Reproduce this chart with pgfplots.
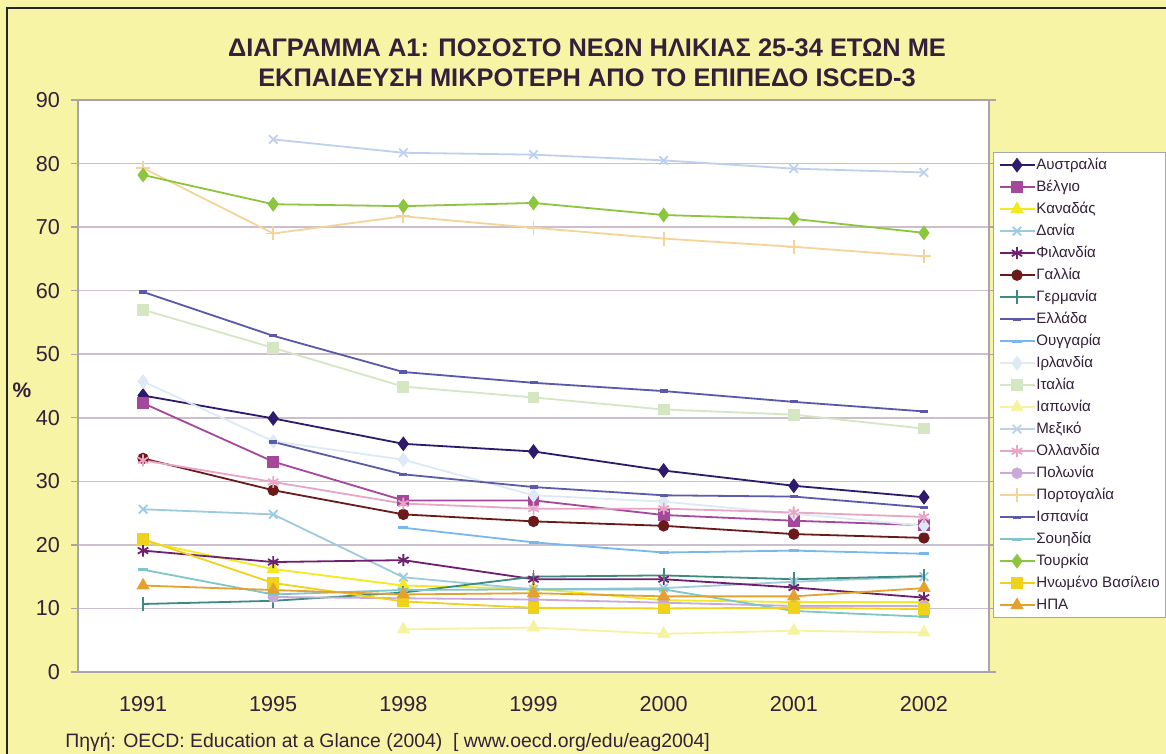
\documentclass[border=0pt]{standalone}
\usepackage{pgfplots}
\pgfplotsset{compat=1.18}
\usepackage{fontspec}
\setmainfont{Liberation Sans}
\definecolor{bgyellow}{HTML}{F7F4A5}
\definecolor{txt}{HTML}{33203A}
\definecolor{gridc}{HTML}{CBBFCB}
\definecolor{axc}{HTML}{A8A4A8}
\definecolor{cAus}{HTML}{2E1A6A}
\definecolor{cBel}{HTML}{A5479A}
\definecolor{cCan}{HTML}{F2EA1F}
\definecolor{cDen}{HTML}{9CCBE0}
\definecolor{cFin}{HTML}{6E1F6E}
\definecolor{cFra}{HTML}{6B1A1A}
\definecolor{cGer}{HTML}{3D8A7F}
\definecolor{cGre}{HTML}{5A58AA}
\definecolor{cHun}{HTML}{78B8EE}
\definecolor{cIre}{HTML}{DDEAF5}
\definecolor{cIta}{HTML}{D5E6C3}
\definecolor{cJap}{HTML}{F6F3A0}
\definecolor{cMex}{HTML}{BFD0EE}
\definecolor{cNet}{HTML}{E8A5C5}
\definecolor{cPol}{HTML}{C8A9D8}
\definecolor{cPor}{HTML}{F5D49A}
\definecolor{cSpa}{HTML}{5B5BAA}
\definecolor{cSwe}{HTML}{7FC6C8}
\definecolor{cTur}{HTML}{8CC63E}
\definecolor{cUK}{HTML}{F0D21A}
\definecolor{cUSA}{HTML}{E3A12F}
\begin{document}
\begin{tikzpicture}
\fill[bgyellow] (0,0) rectangle (583pt,377pt);
\draw[black!85, line width=0.9pt] (3.5pt,0) -- (3.5pt,373pt) -- (583pt,373pt);
\node[align=center, text=txt, font=\fontsize{12.7}{15}\selectfont\bfseries] at (293.5pt,345.5pt)
  {ΔΙΑΓΡΑΜΜΑ Α1: ΠΟΣΟΣΤΟ ΝΕΩΝ ΗΛΙΚΙΑΣ 25-34 ΕΤΩΝ ΜΕ\\ΕΚΠΑΙΔΕΥΣΗ ΜΙΚΡΟΤΕΡΗ ΑΠΟ ΤΟ ΕΠΙΠΕΔΟ ISCED-3};
\node[text=txt, font=\fontsize{10.5}{12}\selectfont\bfseries] at (11pt,182pt) {\%};
\node[anchor=west, text=txt, font=\fontsize{9.7}{11}\selectfont, inner sep=0pt] at (32.5pt,6pt)
  {Πηγή: OECD: Education at a Glance (2004)\ \ [ www.oecd.org/edu/eag2004]};
\begin{axis}[
  at={(39pt,41pt)}, anchor=south west,
  scale only axis, width=455.5pt, height=286pt,
  xmin=-0.5, xmax=6.5, ymin=0, ymax=90,
  axis background/.style={fill=white},
  axis line style={axc, line width=0.8pt},
  xtick={0,...,6},
  xticklabels={1991,1995,1998,1999,2000,2001,2002},
  x tick style={draw=none},
  xticklabel style={yshift=-5pt},
  extra x ticks={-0.5,0.5,1.5,2.5,3.5,4.5,5.5,6.5},
  extra x tick labels={},
  extra x tick style={grid=none, tick align=outside, major tick length=3.5pt, tick style={draw=axc, line width=0.7pt}},
  ytick={0,10,...,90},
  ymajorgrids, grid style={gridc, line width=0.8pt},
  y tick style={draw=axc, line width=0.7pt},
  tick align=outside, major tick length=3.5pt,
  yticklabel style={xshift=-2pt},
  ticklabel style={text=txt, font=\fontsize{10.8}{12}\selectfont},
  /pgf/number format/assume math mode=true,
  clip=false,
  every axis plot/.append style={line width=0.9pt},
  legend cell align=left,
  legend style={at={(axis description cs:1.0044,0.909)}, anchor=north west,
    draw=axc, line width=0.6pt, fill=white, inner xsep=2.5pt, inner ysep=1.5pt,
    row sep=1.5pt,
    nodes={font=\fontsize{7.55}{9}\selectfont, text=txt, inner sep=0.5pt, text height=6.5pt, text depth=2pt}},
  legend image code/.code={\draw[mark repeat=2, mark phase=2] plot coordinates {(0pt,0pt) (8.75pt,0pt) (17.5pt,0pt)};},
]
\addplot[cAus, mark=diamond*, mark size=3pt] coordinates {(0,43.5)(1,39.9)(2,35.9)(3,34.7)(4,31.7)(5,29.3)(6,27.5)};
\addlegendentry{Αυστραλία}
\addplot[cBel, mark=square*, mark size=2.5pt] coordinates {(0,42.3)(1,33.1)(2,27.0)(3,27.0)(4,24.7)(5,23.8)(6,23.1)};
\addlegendentry{Βέλγιο}
\addplot[cCan, mark=triangle*, mark size=3pt] coordinates {(0,20.6)(1,16.2)(2,13.6)(3,13.1)(4,11.3)(5,11.0)(6,11.0)};
\addlegendentry{Καναδάς}
\addplot[cDen, mark=x, mark size=3pt] coordinates {(0,25.6)(1,24.8)(2,14.9)(3,13.0)(4,13.2)(5,14.2)(6,15.0)};
\addlegendentry{Δανία}
\addplot[cFin, mark=asterisk, mark size=3pt] coordinates {(0,19.1)(1,17.3)(2,17.6)(3,14.6)(4,14.6)(5,13.3)(6,11.7)};
\addlegendentry{Φιλανδία}
\addplot[cFra, mark=*, mark size=2.4pt] coordinates {(0,33.6)(1,28.6)(2,24.8)(3,23.7)(4,23.0)(5,21.7)(6,21.1)};
\addlegendentry{Γαλλία}
\addplot[cGer, mark=|, mark size=3.5pt] coordinates {(0,10.7)(1,11.2)(2,12.5)(3,15.0)(4,15.2)(5,14.6)(6,15.1)};
\addlegendentry{Γερμανία}
\addplot[cGre, mark=-, mark size=2pt, mark options={line width=1.6pt}] coordinates {(0,59.8)(1,52.9)(2,47.2)(3,45.5)(4,44.2)(5,42.5)(6,41.0)};
\addlegendentry{Ελλάδα}
\addplot[cHun, mark=-, mark size=2.5pt, mark options={line width=1.6pt}] coordinates {(2,22.7)(3,20.4)(4,18.8)(5,19.1)(6,18.6)};
\addlegendentry{Ουγγαρία}
\addplot[cIre, mark=diamond*, mark size=3pt] coordinates {(0,45.7)(1,36.3)(2,33.4)(3,27.8)(4,26.8)(5,24.9)(6,23.0)};
\addlegendentry{Ιρλανδία}
\addplot[cIta, mark=square*, mark size=2.5pt] coordinates {(0,57.0)(1,51.0)(2,44.9)(3,43.2)(4,41.3)(5,40.5)(6,38.3)};
\addlegendentry{Ιταλία}
\addplot[cJap, mark=triangle*, mark size=3pt] coordinates {(2,6.7)(3,7.0)(4,6.0)(5,6.5)(6,6.2)};
\addlegendentry{Ιαπωνία}
\addplot[cMex, mark=x, mark size=3pt] coordinates {(1,83.8)(2,81.7)(3,81.4)(4,80.5)(5,79.2)(6,78.6)};
\addlegendentry{Μεξικό}
\addplot[cNet, mark=asterisk, mark size=3pt] coordinates {(0,33.3)(1,29.9)(2,26.5)(3,25.7)(4,25.7)(5,25.1)(6,24.4)};
\addlegendentry{Ολλανδία}
\addplot[cPol, mark=*, mark size=2.4pt] coordinates {(1,11.8)(2,11.6)(3,11.4)(4,10.9)(5,10.4)(6,10.4)};
\addlegendentry{Πολωνία}
\addplot[cPor, mark=+, mark size=3.5pt] coordinates {(0,79.3)(1,69.0)(2,71.7)(3,69.9)(4,68.2)(5,66.9)(6,65.4)};
\addlegendentry{Πορτογαλία}
\addplot[cSpa, mark=-, mark size=2pt, mark options={line width=1.6pt}] coordinates {(1,36.2)(2,31.1)(3,29.1)(4,27.8)(5,27.6)(6,25.9)};
\addlegendentry{Ισπανία}
\addplot[cSwe, mark=-, mark size=2.5pt, mark options={line width=1.6pt}] coordinates {(0,16.1)(1,12.2)(2,12.9)(3,13.0)(4,13.0)(5,9.6)(6,8.7)};
\addlegendentry{Σουηδία}
\addplot[cTur, mark=diamond*, mark size=3pt] coordinates {(0,78.2)(1,73.6)(2,73.3)(3,73.8)(4,71.9)(5,71.3)(6,69.1)};
\addlegendentry{Τουρκία}
\addplot[cUK, mark=square*, mark size=2.5pt] coordinates {(0,20.9)(1,14.0)(2,11.1)(3,10.1)(4,10.0)(5,10.1)(6,9.9)};
\addlegendentry{Ηνωμένο Βασίλειο}
\addplot[cUSA, mark=triangle*, mark size=3pt] coordinates {(0,13.6)(1,12.9)(2,12.2)(3,12.4)(4,11.9)(5,11.9)(6,13.2)};
\addlegendentry{ΗΠΑ}
\end{axis}
\pgfresetboundingbox
\path[use as bounding box] (0,0) rectangle (583pt,377pt);
\end{tikzpicture}
\end{document}
